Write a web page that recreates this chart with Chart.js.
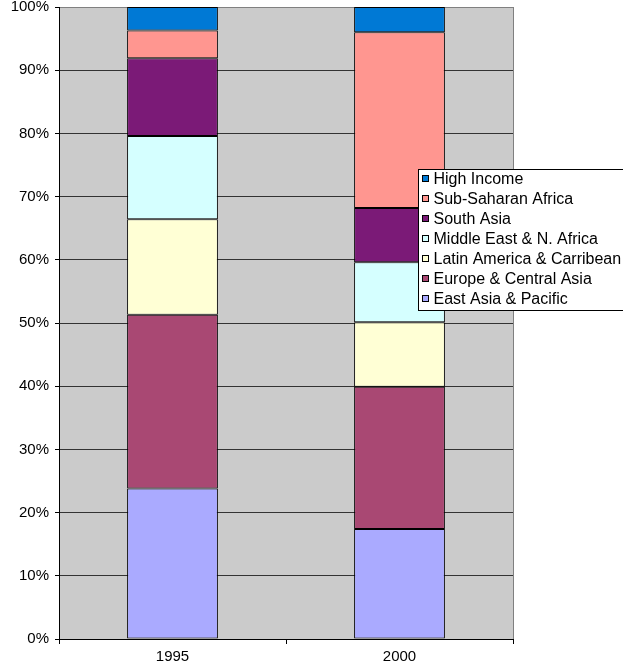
<!DOCTYPE html>
<html>
<head>
<meta charset="utf-8">
<title>Regional shares, 1995 and 2000</title>
<script src="https://cdn.jsdelivr.net/npm/chart.js@4/dist/chart.umd.min.js"></script>
<style>
  html, body { margin: 0; padding: 0; background: #ffffff; }
  #wrap { width: 623px; height: 667px; position: relative; }
</style>
</head>
<body>
<div id="wrap"><canvas id="chart" width="623" height="667"></canvas></div>
<script>
// años en el eje x
const years = ["1995", "2000"];

// participación de cada región (%), de abajo hacia arriba en la pila
const eastAsia     = [23.8, 17.4];
const europeCA     = [27.5, 22.5];
const latinAmerica = [15.1, 10.2];
const middleEast   = [13.2, 9.5];
const southAsia    = [12.3, 8.6];
const subSaharan   = [4.4, 27.8];
const highIncome   = [3.7, 4.0];

const regionNames = [
    "East Asia & Pacific",
    "Europe & Central Asia",
    "Latin America & Carribean",
    "Middle East & N. Africa",
    "South Asia",
    "Sub-Saharan Africa",
    "High Income"
];
const regionColors = ["#aaaaff", "#a94873", "#ffffd5", "#d5ffff", "#7b1a77", "#ff9690", "#0079d5"];
const regionValues = [eastAsia, europeCA, latinAmerica, middleEast, southAsia, subSaharan, highIncome];

const FONT = "'Liberation Sans', Arial, sans-serif";

// fondo gris del área de trazado con su borde
const fondoPlot = {
    id: "fondoPlot",
    beforeDraw(chart) {
        const { ctx, chartArea: a } = chart;
        ctx.save();
        ctx.fillStyle = "#cbcbcb";
        ctx.fillRect(a.left, a.top, a.right - a.left, a.bottom - a.top);
        ctx.strokeStyle = "#808080";
        ctx.lineWidth = 1;
        ctx.strokeRect(a.left + 0.5, a.top + 0.5, a.right - a.left, a.bottom - a.top);
        ctx.restore();
    }
};

// leyenda en recuadro, encima del gráfico (orden inverso a la pila)
const leyendaCaja = {
    id: "leyendaCaja",
    afterDraw(chart) {
        const { ctx } = chart;
        const x = 418.5, y = 169.5, w = 206, h = 141;
        ctx.save();
        ctx.fillStyle = "#ffffff";
        ctx.fillRect(x, y, w, h);
        ctx.strokeStyle = "#000000";
        ctx.lineWidth = 1;
        ctx.strokeRect(x, y, w, h);
        ctx.font = "16px " + FONT;
        ctx.textBaseline = "middle";
        const ds = chart.data.datasets.slice().reverse();
        ds.forEach((d, i) => {
            const cy = y + 9 + i * 20;
            ctx.fillStyle = d.backgroundColor;
            ctx.fillRect(x + 4, cy - 3, 6, 6);
            ctx.strokeStyle = "#000000";
            ctx.strokeRect(x + 4, cy - 3, 6, 6);
            ctx.fillStyle = "#000000";
            ctx.fillText(d.label, x + 15, cy + 1);
        });
        ctx.restore();
    }
};

const datasets = regionNames.map((name, i) => ({
    label: name,
    data: regionValues[i],
    backgroundColor: regionColors[i],
    borderColor: "#000000",
    borderWidth: 1,
    borderSkipped: false,
    barPercentage: 0.4,
    categoryPercentage: 1.0
}));

const config = {
    type: "bar",
    data: { labels: years, datasets },
    options: {
        responsive: false,
        animation: false,
        layout: { padding: { top: 7, right: 110, left: 0, bottom: 0 } },
        plugins: {
            legend: { display: false },
            title: { display: false },
            tooltip: { enabled: false }
        },
        scales: {
            x: {
                stacked: true,
                grid: {
                    offset: true,
                    drawOnChartArea: false,
                    drawTicks: true,
                    tickLength: 5,
                    color: "#000000"
                },
                border: { display: true, color: "#000000" },
                ticks: { color: "#000000", font: { family: FONT, size: 15 }, padding: 4 },
                afterFit(scale) {
                    scale.height = 28;
                    scale.paddingLeft = 0;
                    scale.paddingRight = 0;
                }
            },
            y: {
                stacked: true,
                min: 0,
                max: 100,
                ticks: {
                    stepSize: 10,
                    color: "#000000",
                    font: { family: FONT, size: 15 },
                    padding: 6,
                    callback: v => v + "%"
                },
                grid: {
                    color: ctx => (ctx.tick && ctx.tick.value === 100 ? "#808080" : "#333333"),
                    tickColor: "#000000",
                    tickLength: 4
                },
                border: { display: true, color: "#000000" },
                afterFit(scale) {
                    scale.width = 59;
                    scale.paddingTop = 0;
                    scale.paddingBottom = 0;
                }
            }
        }
    },
    plugins: [fondoPlot, leyendaCaja]
};

const grafico = new Chart(document.getElementById("chart"), config);
</script>
</body>
</html>
